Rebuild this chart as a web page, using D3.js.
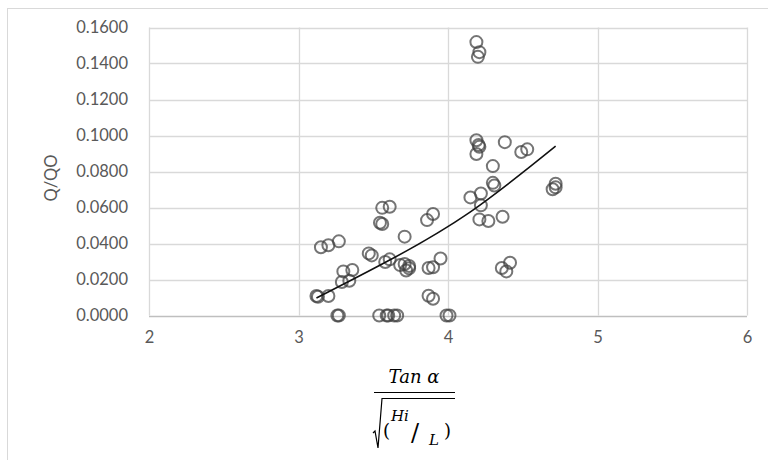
<!DOCTYPE html>
<html><head><meta charset="utf-8">
<script src="https://cdn.jsdelivr.net/npm/d3@7/dist/d3.min.js"></script>
<style>body{margin:0;background:#fff}svg{display:block}</style>
</head><body>
<svg id="c" width="768" height="460"></svg>
<script>
// Data
const xValues = [4.19,4.21,4.20,4.19,4.205,4.21,4.19,4.38,4.49,4.53,4.30,4.30,4.31,4.22,4.15,4.22,4.21,4.27,4.365,4.70,4.72,4.72,
  3.86,3.90,3.71,3.95,3.87,3.90,4.36,4.415,4.39,3.87,3.90,3.99,4.01,3.56,3.61,3.545,3.56,3.15,3.20,3.27,3.47,3.49,3.58,3.61,
  3.68,3.71,3.74,3.72,3.74,3.30,3.36,3.29,3.34,3.12,3.13,3.20,3.27,3.26,3.54,3.59,3.60,3.64,3.66];
const yValues = [0.1519,0.1463,0.1437,0.0974,0.0947,0.0937,0.0897,0.0963,0.0908,0.0923,0.0830,0.0737,0.0722,0.0678,0.0656,0.0612,0.0534,0.0525,0.0549,0.0701,0.0732,0.0712,
  0.0530,0.0564,0.0438,0.0317,0.0264,0.0268,0.0264,0.0293,0.0245,0.0110,0.0093,0.0,0.0,0.0598,0.0604,0.0515,0.0508,0.0379,0.0390,0.0412,0.0345,0.0334,0.0297,0.0312,
  0.0280,0.0286,0.0275,0.0250,0.0262,0.0245,0.0253,0.0186,0.0193,0.0108,0.0104,0.0108,0.0,0.0,0.0,0.0,0.0,0.0,0.0];
const trendX = [3.12,3.61,4.15,4.72];
const trendY = [0.0097,0.0308,0.0576,0.0941];
const xTicks = [2,3,4,5,6];
const yTicks = [0,0.02,0.04,0.06,0.08,0.10,0.12,0.14,0.16];
const yAxisTitle = "Q/QO";

const svg = d3.select("#c");
const sans = "Lato, 'Open Sans', sans-serif";
// chart border
svg.append("rect").attr("x",7.5).attr("y",8.5).attr("width",800).attr("height",500)
  .attr("fill","none").attr("stroke","#d9d9d9").attr("stroke-width",1);

const x = d3.scaleLinear().domain([2,6]).range([149,747]);
const y = d3.scaleLinear().domain([0,0.16]).range([315.5,27.5]);

// gridlines
svg.append("g").selectAll("line").data(yTicks.slice(1)).join("line")
  .attr("x1",x(2)).attr("x2",x(6)).attr("y1",d=>Math.round(y(d))+0.5).attr("y2",d=>Math.round(y(d))+0.5)
  .attr("stroke","#d9d9d9").attr("stroke-width",1.3);
svg.append("g").selectAll("line").data(xTicks).join("line")
  .attr("x1",d=>Math.round(x(d))+0.5).attr("x2",d=>Math.round(x(d))+0.5).attr("y1",y(0.16)).attr("y2",y(0))
  .attr("stroke","#d9d9d9").attr("stroke-width",1.3);
// x axis line
svg.append("line").attr("x1",x(2)).attr("x2",x(6)).attr("y1",Math.round(y(0))+0.5).attr("y2",Math.round(y(0))+0.5)
  .attr("stroke","#bfbfbf").attr("stroke-width",1.3);

// axes labels via d3 axes
const fmtY = d3.format(".4f");
const yAxis = svg.append("g").attr("transform",`translate(${x(2)},0)`)
  .call(d3.axisLeft(y).tickValues(yTicks).tickFormat(fmtY).tickSize(0).tickPadding(21));
yAxis.select(".domain").remove();
yAxis.selectAll("text").attr("font-family",sans).attr("font-size",16.5).attr("fill","#595959");

const xAxis = svg.append("g").attr("transform",`translate(0,${y(0)})`)
  .call(d3.axisBottom(x).tickValues(xTicks).tickFormat(d3.format("d")).tickSize(0).tickPadding(16));
xAxis.select(".domain").remove();
xAxis.selectAll("text").attr("font-family",sans).attr("font-size",16.5).attr("fill","#595959");

// y title
svg.append("text").attr("transform","translate(57,178) rotate(-90)").attr("text-anchor","middle")
  .attr("font-family",sans).attr("font-size",16.5).attr("fill","#595959").text(yAxisTitle);

// points
const pts = xValues.map((v,i)=>({x:v,y:yValues[i]}));
svg.append("g").selectAll("circle").data(pts).join("circle")
  .attr("cx",d=>x(d.x)).attr("cy",d=>y(d.y)).attr("r",6)
  .attr("fill","none").attr("stroke","#404040").attr("stroke-opacity",0.72).attr("stroke-width",2);

// trend line
const tr = trendX.map((v,i)=>[v,trendY[i]]);
svg.append("path").datum(tr).attr("fill","none").attr("stroke","#111").attr("stroke-width",1.6)
  .attr("d",d3.line().x(d=>x(d[0])).y(d=>y(d[1])).curve(d3.curveNatural));

// x axis title (fraction)
const ft = svg.append("g").attr("font-family","'DejaVu Serif', serif").attr("font-style","italic").attr("fill","#000");
ft.append("text").attr("x",414).attr("y",383).attr("text-anchor","middle").attr("font-size",18).text("Tan α");
ft.append("line").attr("x1",374).attr("x2",455).attr("y1",392.5).attr("y2",392.5).attr("stroke","#000").attr("stroke-width",1.2);
ft.append("path").attr("d","M373,433 L375,431 L378,448 L382,398.5 L455,398.5").attr("fill","none").attr("stroke","#000").attr("stroke-width",1.2);
ft.append("text").attr("x",383).attr("y",437).attr("font-size",18).attr("font-style","normal").text("(");
ft.append("text").attr("x",391).attr("y",421).attr("font-size",15).text("Hi");
ft.append("text").attr("x",411).attr("y",441).attr("font-size",24).attr("font-style","normal").text("/");
ft.append("text").attr("x",429).attr("y",445).attr("font-size",15).text("L");
ft.append("text").attr("x",444).attr("y",437).attr("font-size",18).attr("font-style","normal").text(")");
</script>
</body></html>
